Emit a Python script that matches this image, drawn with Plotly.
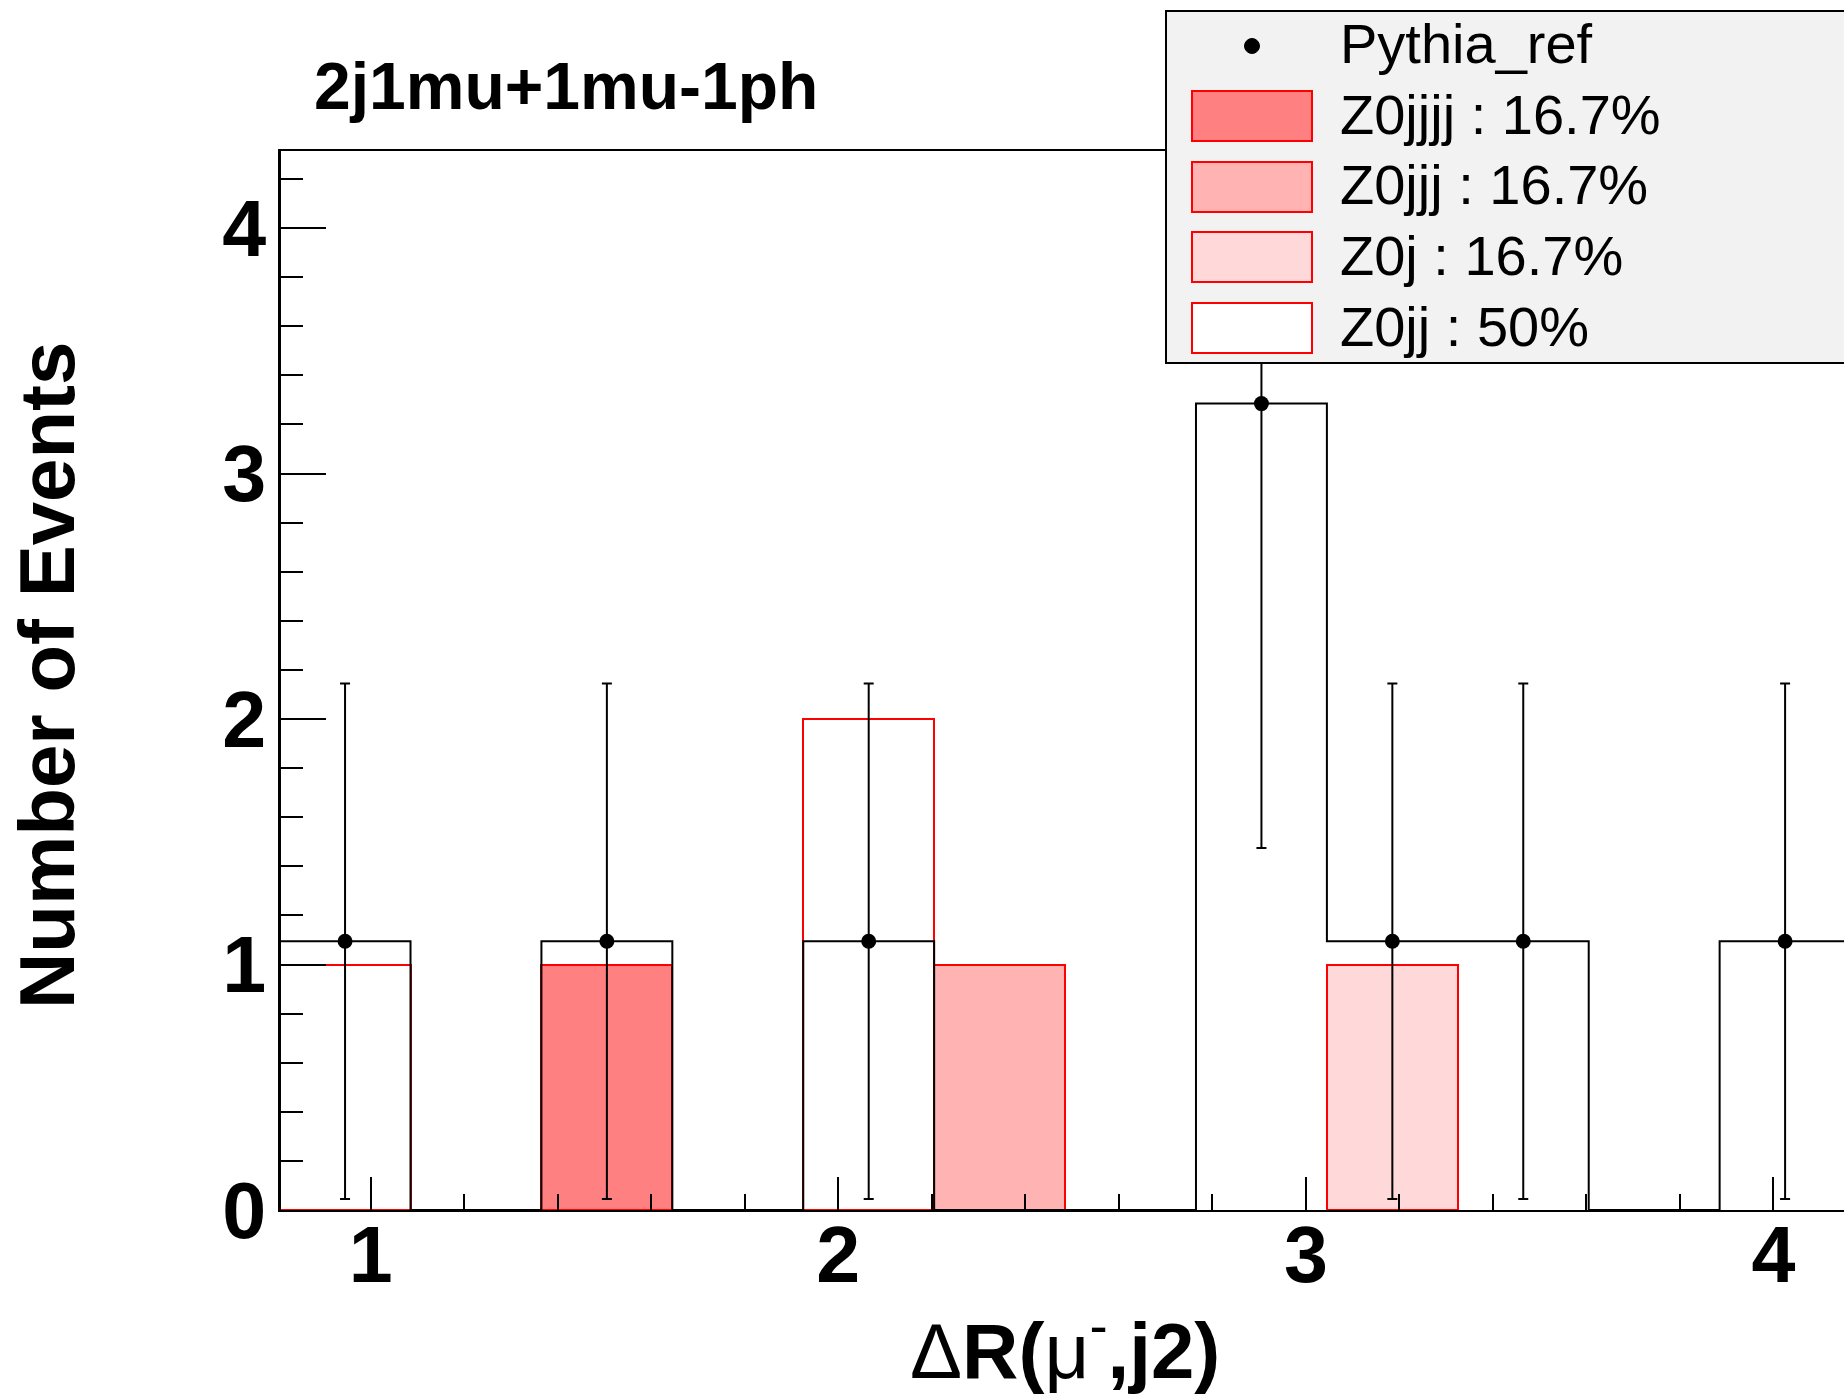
import plotly.graph_objects as go

# ---------------- data ----------------
bin_edges = [0.805, 1.085, 1.365, 1.645, 1.925, 2.205, 2.485, 2.765, 3.045,
             3.325, 3.605, 3.885, 4.165]
pythia_ref = [1.095, 0, 1.095, 0, 1.095, 0, 0, 3.285, 1.095, 1.095, 0, 1.095]
pythia_err = [1.05, 0, 1.05, 0, 1.05, 0, 0, 1.81, 1.05, 1.05, 0, 1.05]
z0jjjj = [0, 0, 1, 0, 0, 0, 0, 0, 0, 0, 0, 0]
z0jjj = [0, 0, 0, 0, 0, 1, 0, 0, 0, 0, 0, 0]
z0j = [0, 0, 0, 0, 0, 0, 0, 0, 1, 0, 0, 0]
z0jj = [1, 0, 0, 0, 2, 0, 0, 0, 0, 0, 0, 0]
legend_labels = ["Pythia_ref", "Z0jjjj : 16.7%", "Z0jjj : 16.7%", "Z0j : 16.7%", "Z0jj : 50%"]
x_ticks = [1, 2, 3, 4]
y_ticks = [0, 1, 2, 3, 4]
x_range = [0.808, 4.151]
y_range = [0, 4.314]

# ---------------- layout geometry ----------------
W, H = 1844, 1394
ML, MR, MT, MB = 281, 0, 151, 184
PW, PH = W - ML - MR, H - MT - MB
FONT = "Liberation Sans, Arial, Helvetica, sans-serif"


def px(x):
    return (x - ML) / PW


def py(y):
    return (H - MB - y) / PH


centers = [(a + b) / 2 for a, b in zip(bin_edges[:-1], bin_edges[1:])]
widths = [b - a for a, b in zip(bin_edges[:-1], bin_edges[1:])]

fig = go.Figure()

stack = [
    ("Z0jjjj", z0jjjj, "#ff8080"),
    ("Z0jjj", z0jjj, "#ffb3b3"),
    ("Z0j", z0j, "#ffd9d9"),
    ("Z0jj", z0jj, "#ffffff"),
]
for name, vals, col in stack:
    fig.add_trace(go.Bar(
        x=centers, y=[v if v else None for v in vals], width=widths, name=name,
        marker=dict(color=col, line=dict(color="#ff0000", width=2)),
        showlegend=False,
    ))

# Pythia_ref histogram outline (step)
fig.add_trace(go.Scatter(
    x=bin_edges, y=pythia_ref + [pythia_ref[-1]], mode="lines",
    line=dict(color="black", width=2, shape="hv"), showlegend=False,
    hoverinfo="skip",
))
# Pythia_ref points with error bars
fig.add_trace(go.Scatter(
    x=centers, y=[v if v else None for v in pythia_ref], mode="markers",
    marker=dict(color="black", size=15),
    error_y=dict(type="data", array=pythia_err, color="black", thickness=2, width=5),
    name="Pythia_ref", showlegend=False,
))

fig.update_layout(
    width=W, height=H,
    margin=dict(l=ML, r=MR, t=MT, b=MB, pad=0),
    paper_bgcolor="white", plot_bgcolor="white",
    barmode="stack", bargap=0,
    showlegend=False,
    font=dict(family=FONT, color="black"),
)
fig.update_xaxes(
    range=x_range, showline=True, linecolor="black", linewidth=2, mirror=True,
    ticks="inside", ticklen=33, tickwidth=2, tickcolor="black",
    tickvals=x_ticks, showgrid=False, zeroline=False, layer="above traces",
    tickfont=dict(family=FONT, size=79, weight="bold", color="black"),
    minor=dict(ticks="inside", ticklen=16, tickwidth=2, tickcolor="black", dtick=0.2, tick0=0),
    ticklabelstandoff=-25,
)
fig.update_yaxes(
    range=y_range, showline=True, linecolor="black", linewidth=3, mirror=False,
    ticks="inside", ticklen=45, tickwidth=2, tickcolor="black",
    tickvals=y_ticks, showgrid=False, zeroline=False, layer="above traces",
    tickfont=dict(family=FONT, size=79, weight="bold", color="black"),
    minor=dict(ticks="inside", ticklen=22, tickwidth=2, tickcolor="black", dtick=0.2, tick0=0),
    ticklabelstandoff=-4,
)

annotations = []
# title
annotations.append(dict(
    text="<b>2j1mu+1mu-1ph</b>", xref="paper", yref="paper",
    x=px(312), y=py(86), xanchor="left", yanchor="middle", showarrow=False,
    font=dict(family=FONT, size=66, color="black"),
))
# y title
annotations.append(dict(
    text="<b>Number of Events</b>", xref="paper", yref="paper",
    x=px(47), y=py(676), xanchor="center", yanchor="middle", textangle=-90,
    showarrow=False, font=dict(family=FONT, size=78, color="black"),
))
# x title
annotations.append(dict(
    text="Δ<b>R(</b>μ<sup>-</sup><b>,j2)</b>", xref="paper", yref="paper",
    x=px(1065), y=py(1345), xanchor="center", yanchor="middle",
    showarrow=False, font=dict(family=FONT, size=78, color="black"),
))

shapes = []
# legend frame
shapes.append(dict(type="rect", xref="paper", yref="paper", layer="above",
                   x0=px(1166), x1=px(1900), y0=py(363), y1=py(11),
                   fillcolor="#f2f2f2", line=dict(color="black", width=2)))
row_y = [46, 116, 187, 257, 328]
# marker for Pythia_ref
shapes.append(dict(type="circle", xref="paper", yref="paper", layer="above",
                   x0=px(1252 - 7.5), x1=px(1252 + 7.5), y0=py(row_y[0] + 7.5), y1=py(row_y[0] - 7.5),
                   fillcolor="black", line=dict(color="black", width=1)))
for (name, vals, col), yc in zip(stack, row_y[1:]):
    shapes.append(dict(type="rect", xref="paper", yref="paper", layer="above",
                       x0=px(1192), x1=px(1312), y0=py(yc + 25), y1=py(yc - 25),
                       fillcolor=col, line=dict(color="#ff0000", width=2)))
for lab, yc in zip(legend_labels, row_y):
    annotations.append(dict(
        text=lab, xref="paper", yref="paper", x=px(1338), y=py(yc - 2),
        xanchor="left", yanchor="middle", showarrow=False,
        font=dict(family=FONT, size=56, color="black"),
    ))

fig.update_layout(annotations=annotations, shapes=shapes)
fig.write_html("out.html", config={"displayModeBar": False},
               post_script="document.body.style.margin='0px';document.body.style.overflow='hidden';")
